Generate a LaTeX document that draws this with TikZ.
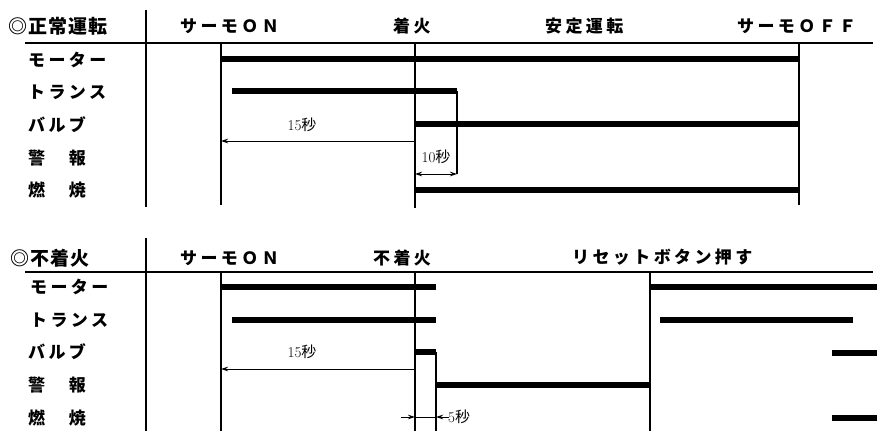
\documentclass[tikz,border=0pt]{standalone}
\usepackage{fontspec}
\newfontfamily\jpsp[LetterSpace=20]{Noto Sans CJK JP}
\newfontfamily\jpt[LetterSpace=6]{Noto Sans CJK JP}
\newfontfamily\jpn{Noto Sans CJK JP}
\usetikzlibrary{arrows.meta}
\tikzset{
  lbl/.style={font=\jpsp\bfseries\fontsize{17}{17}\selectfont, inner sep=0pt, anchor=west},
  ttl/.style={font=\jpt\bfseries\fontsize{19}{19}\selectfont, inner sep=0pt, anchor=west},
  seclbl/.style={font=\fontsize{15}{15}\selectfont, inner sep=0pt},
  bar/.style={line width=5.5pt},
  rule/.style={line width=1.5pt},
  dimline/.style={line width=0.8pt},
  dimarr/.style={line width=0.8pt, -{Stealth[length=7pt,width=4.5pt]}},
}
\newcommand{\secs}[1]{{\rmfamily #1}{\jpn 秒}}
\begin{document}
\begin{tikzpicture}[x=1pt,y=-1pt]
\useasboundingbox[fill=white] (0,0) rectangle (877,431);

% ---------- Top: normal operation ----------
\node[ttl] (t1) at (8,26) {◎正常運転};
\node[lbl] (h1a) at (180,26) {サーモＯＮ};
\node[lbl] (h1b) at (393,26) {着火};
\node[lbl] (h1c) at (545,26) {安定運転};
\node[lbl] (h1d) at (737,26) {サーモＯＦＦ};
\node[lbl] (r1a) at (28,60) {モーター};
\node[lbl] (r1b) at (28,92) {トランス};
\node[lbl] (r1c) at (28,125) {バルブ};
\node[lbl] (r1d) at (28,158) {警　報};
\node[lbl] (r1e) at (28,190) {燃　焼};

\coordinate (d1a) at (146,10); \coordinate (d1b) at (146,207);
\coordinate (l1a) at (25,43);  \coordinate (l1b) at (873,43);
\draw[rule] (d1a) -- (d1b);
\draw[rule] (l1a) -- (l1b);

\coordinate (v1a) at (221,43); \coordinate (v1b) at (221,205);
\coordinate (v2a) at (415,43); \coordinate (v2b) at (415,208);
\coordinate (v3a) at (799,43); \coordinate (v3b) at (799,205);
\draw[rule] (v1a) -- (v1b);
\draw[rule] (v2a) -- (v2b);
\draw[rule] (v3a) -- (v3b);

\coordinate (m1a) at (221,59); \coordinate (m1b) at (799,59);
\coordinate (tr1a) at (232,91); \coordinate (tr1b) at (457,91);
\coordinate (tr1c) at (457,174);
\coordinate (va1a) at (415,124); \coordinate (va1b) at (799,124);
\coordinate (co1a) at (415,190); \coordinate (co1b) at (799,190);
\draw[bar] (m1a) -- (m1b);
\draw[bar] (tr1a) -- (tr1b);
\draw[rule] (tr1b) -- (tr1c);
\draw[bar] (va1a) -- (va1b);
\draw[bar] (co1a) -- (co1b);

\coordinate (s1a) at (221,141); \coordinate (s1b) at (415,141);
\draw[dimarr, {Stealth[length=7pt,width=4.5pt]}-] (s1a) -- (s1b);
\node[seclbl] (n15a) at (302,125) {\secs{15}};
\coordinate (s2a) at (415,174); \coordinate (s2b) at (457,174);
\draw[dimline, {Stealth[length=7pt,width=4.5pt]}-{Stealth[length=7pt,width=4.5pt]}] (s2a) -- (s2b);
\node[seclbl] (n10) at (436,157) {\secs{10}};

% ---------- Bottom: no ignition ----------
\node[ttl] (t2) at (10,258) {◎不着火};
\node[lbl] (h2a) at (180,258) {サーモＯＮ};
\node[lbl] (h2b) at (373,258) {不着火};
\node[lbl] (h2c) at (572,257) {リセットボタン押す};
\node[lbl] (r2a) at (30,287) {モーター};
\node[lbl] (r2b) at (30,320) {トランス};
\node[lbl] (r2c) at (28,352) {バルブ};
\node[lbl] (r2d) at (28,385) {警　報};
\node[lbl] (r2e) at (28,418) {燃　焼};

\coordinate (d2a) at (146,238); \coordinate (d2b) at (146,431);
\coordinate (l2a) at (25,272);  \coordinate (l2b) at (873,272);
\draw[rule] (d2a) -- (d2b);
\draw[rule] (l2a) -- (l2b);

\coordinate (w1a) at (221,272); \coordinate (w1b) at (221,431);
\coordinate (w2a) at (415,272); \coordinate (w2b) at (415,431);
\coordinate (w3a) at (436,352); \coordinate (w3b) at (436,431);
\coordinate (w4a) at (650,272); \coordinate (w4b) at (650,431);
\draw[rule] (w1a) -- (w1b);
\draw[rule] (w2a) -- (w2b);
\draw[rule] (w3a) -- (w3b);
\draw[rule] (w4a) -- (w4b);

\coordinate (m2a) at (221,287); \coordinate (m2b) at (436,287);
\coordinate (m2c) at (650,287); \coordinate (m2d) at (877,287);
\coordinate (tr2a) at (232,320); \coordinate (tr2b) at (436,320);
\coordinate (tr2c) at (660,320); \coordinate (tr2d) at (853,320);
\coordinate (va2a) at (415,352); \coordinate (va2b) at (436,352);
\coordinate (va2c) at (832,353); \coordinate (va2d) at (877,353);
\coordinate (al2a) at (436,385); \coordinate (al2b) at (650,385);
\coordinate (co2a) at (832,418); \coordinate (co2b) at (877,418);
\draw[bar] (m2a) -- (m2b);
\draw[bar] (m2c) -- (m2d);
\draw[bar] (tr2a) -- (tr2b);
\draw[bar] (tr2c) -- (tr2d);
\draw[bar] (va2a) -- (va2b);
\draw[bar] (va2c) -- (va2d);
\draw[bar] (al2a) -- (al2b);
\draw[bar] (co2a) -- (co2b);

\coordinate (s3a) at (221,369); \coordinate (s3b) at (415,369);
\draw[dimarr, {Stealth[length=7pt,width=4.5pt]}-] (s3a) -- (s3b);
\node[seclbl] (n15b) at (302,352) {\secs{15}};

\coordinate (f0) at (401,417); \coordinate (f1) at (415,417);
\coordinate (f2) at (436,417); \coordinate (f3) at (449,417);
\draw[dimarr] (f0) -- (f1);
\draw[dimline] (f1) -- (f2);
\draw[dimarr] (f3) -- (f2);
\node[seclbl, anchor=west] (n5) at (448,417) {\secs{5}};
\end{tikzpicture}
\end{document}
